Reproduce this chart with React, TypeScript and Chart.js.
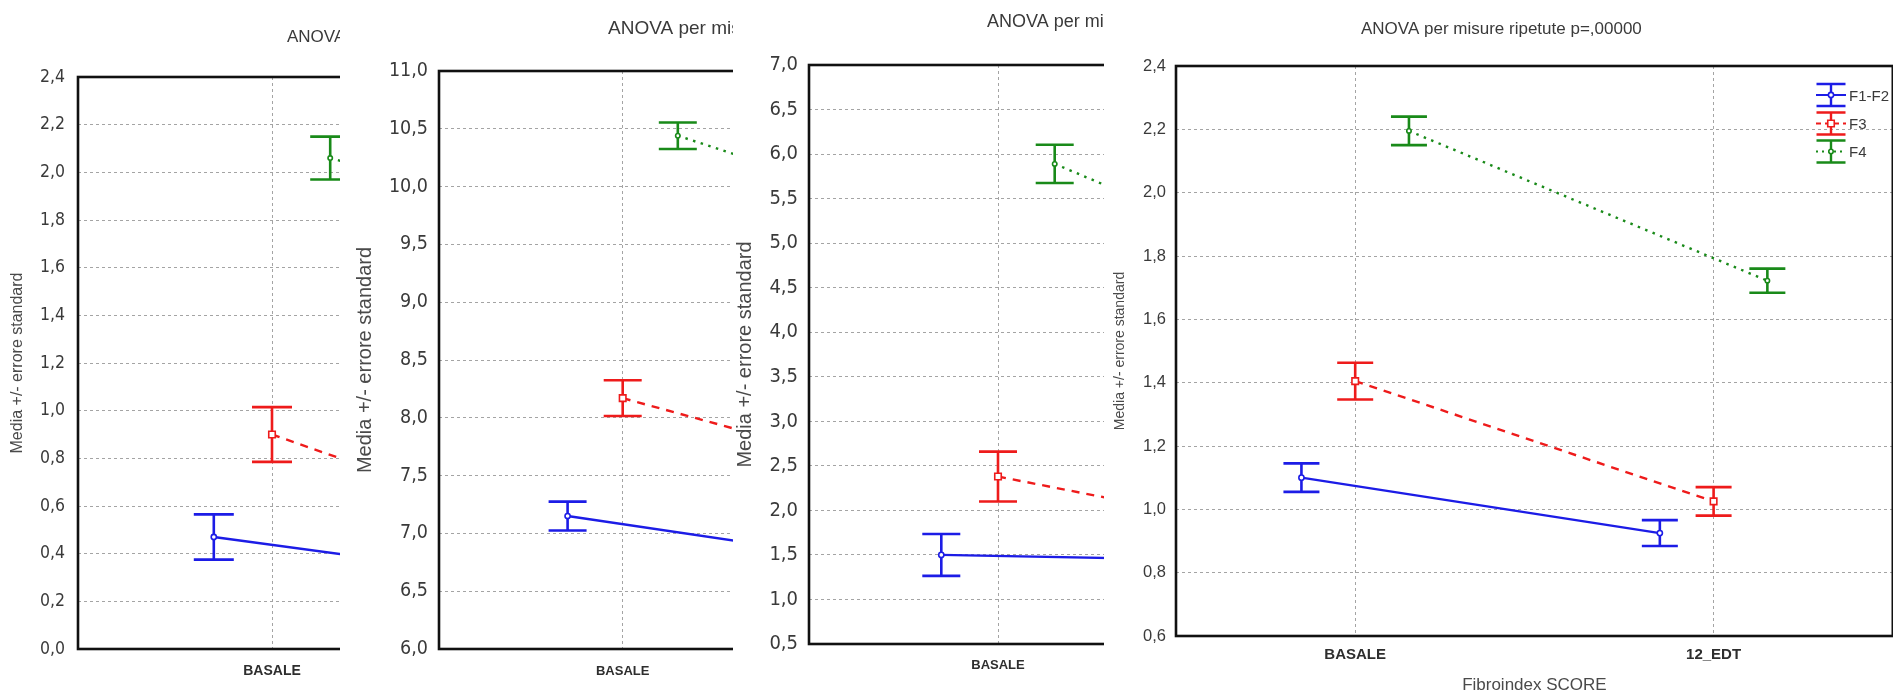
import React, { useEffect, useRef } from 'react';
import { Chart, registerables } from 'chart.js';

Chart.register(...registerables);

// ---------------- DATA ----------------
const CATEGORIES = ['BASALE', '12_EDT'];
const SERIES = ['F1-F2', 'F3', 'F4'];
const TITLE = 'ANOVA per misure ripetute p=,00000';
const Y_TITLE = 'Media +/- errore standard';
const X_TITLE = 'Fibroindex SCORE';

// y axis: [min, max, step]
const P1_Y_AXIS = [0, 2.4, 0.2];
const P2_Y_AXIS = [6.0, 11.0, 0.5];
const P3_Y_AXIS = [0.5, 7.0, 0.5];
const P4_Y_AXIS = [0.6, 2.4, 0.2];

// panel 1 (means, standard errors) per category
const P1_F12_MEAN = [0.47, 0.25];
const P1_F12_SE = [0.095, 0.09];
const P1_F3_MEAN = [0.9, 0.33];
const P1_F3_SE = [0.115, 0.1];
const P1_F4_MEAN = [2.06, 1.6];
const P1_F4_SE = [0.09, 0.09];

// panel 2
const P2_F12_MEAN = [7.15, 6.68];
const P2_F12_SE = [0.125, 0.12];
const P2_F3_MEAN = [8.17, 7.3];
const P2_F3_SE = [0.155, 0.15];
const P2_F4_MEAN = [10.44, 9.4];
const P2_F4_SE = [0.115, 0.12];

// panel 3
const P3_F12_MEAN = [1.5, 1.42];
const P3_F12_SE = [0.235, 0.2];
const P3_F3_MEAN = [2.38, 1.55];
const P3_F3_SE = [0.28, 0.25];
const P3_F4_MEAN = [5.89, 4.1];
const P3_F4_SE = [0.215, 0.2];

// panel 4
const P4_F12_MEAN = [1.1, 0.925];
const P4_F12_SE = [0.045, 0.041];
const P4_F3_MEAN = [1.405, 1.025];
const P4_F3_SE = [0.058, 0.045];
const P4_F4_MEAN = [2.195, 1.722];
const P4_F4_SE = [0.045, 0.038];

// ---------------- STYLE ----------------
const SERIES_STYLE = [
  { color: '#1c1ce6', dash: [] as number[], pointStyle: 'circle', radius: 2.6 },
  { color: '#ee1b1b', dash: [8, 7], pointStyle: 'rect', radius: 4.6 },
  { color: '#198a19', dash: [2.5, 5.5], pointStyle: 'circle', radius: 2.2 },
];
const OFFSETS = [-0.15, 0, 0.15];
const H = 694;
const NARROW = "'Liberation Sans Narrow', 'DejaVu Sans Condensed', 'Liberation Sans', sans-serif";
const SANS = "'Liberation Sans', Arial, sans-serif";
const TEXT_COLOR = '#3a3a3a';
const GRID_COLOR = '#a4a4a4';

type PanelCfg = {
  left: number; width: number;
  plotLeft: number; plotRight: number; plotTop: number; plotBottom: number;
  titleX: number; titleY: number; titleSize: number;
  yTitleSize: number; yTitleCenter: number;
  tickFamily: string; tickSize: number; tickPad: number;
  catSize: number; catPad: number;
  capHalf: number;
  showLegend: boolean; showXTitle: boolean;
  yAxis: number[];
  means: number[][]; ses: number[][];
};

const PANELS: PanelCfg[] = [
  {
    left: 0, width: 870, plotLeft: 78, plotRight: 854, plotTop: 77, plotBottom: 649,
    titleX: 287, titleY: 37, titleSize: 17, yTitleSize: 16, yTitleCenter: 18,
    tickFamily: NARROW, tickSize: 17.5, tickPad: 13, catSize: 14, catPad: 13.6, capHalf: 20,
    showLegend: false, showXTitle: false, yAxis: P1_Y_AXIS,
    means: [P1_F12_MEAN, P1_F3_MEAN, P1_F4_MEAN], ses: [P1_F12_SE, P1_F3_SE, P1_F4_SE],
  },
  {
    left: 340, width: 840, plotLeft: 439, plotRight: 1175, plotTop: 71, plotBottom: 649,
    titleX: 608, titleY: 29, titleSize: 19, yTitleSize: 20, yTitleCenter: 365,
    tickFamily: NARROW, tickSize: 19.5, tickPad: 11, catSize: 13, catPad: 15, capHalf: 19,
    showLegend: false, showXTitle: false, yAxis: P2_Y_AXIS,
    means: [P2_F12_MEAN, P2_F3_MEAN, P2_F4_MEAN], ses: [P2_F12_SE, P2_F3_SE, P2_F4_SE],
  },
  {
    left: 733, width: 840, plotLeft: 809, plotRight: 1565, plotTop: 65, plotBottom: 644,
    titleX: 987, titleY: 22, titleSize: 18, yTitleSize: 20, yTitleCenter: 745,
    tickFamily: NARROW, tickSize: 20, tickPad: 11, catSize: 13, catPad: 14, capHalf: 19,
    showLegend: false, showXTitle: false, yAxis: P3_Y_AXIS,
    means: [P3_F12_MEAN, P3_F3_MEAN, P3_F4_MEAN], ses: [P3_F12_SE, P3_F3_SE, P3_F4_SE],
  },
  {
    left: 1104, width: 795, plotLeft: 1176, plotRight: 1895.5, plotTop: 66, plotBottom: 636,
    titleX: 1361, titleY: 29, titleSize: 17, yTitleSize: 14, yTitleCenter: 1120,
    tickFamily: SANS, tickSize: 16.5, tickPad: 10, catSize: 15, catPad: 10, capHalf: 18,
    showLegend: true, showXTitle: true, yAxis: P4_Y_AXIS,
    means: [P4_F12_MEAN, P4_F3_MEAN, P4_F4_MEAN], ses: [P4_F12_SE, P4_F3_SE, P4_F4_SE],
  },
];

function drawMarker(ctx: CanvasRenderingContext2D, k: number, x: number, y: number) {
  const st = SERIES_STYLE[k];
  ctx.save();
  ctx.setLineDash([]);
  ctx.fillStyle = '#ffffff';
  ctx.strokeStyle = st.color;
  ctx.lineWidth = 1.6;
  ctx.beginPath();
  if (st.pointStyle === 'rect') {
    const s = st.radius * Math.SQRT1_2;
    ctx.rect(x - s, y - s, 2 * s, 2 * s);
  } else {
    ctx.arc(x, y, st.radius, 0, Math.PI * 2);
  }
  ctx.fill();
  ctx.stroke();
  ctx.restore();
}

const decoPlugin = {
  id: 'panelDeco',
  beforeDatasetsDraw(chart: any, _args: any, opts: any) {
    const cfg: PanelCfg = opts.cfg;
    const { ctx } = chart;
    const xs = chart.scales.x;
    const ys = chart.scales.y;
    ctx.save();
    ctx.lineWidth = 2.6;
    ctx.setLineDash([]);
    cfg.means.forEach((m, k) => {
      ctx.strokeStyle = SERIES_STYLE[k].color;
      m.forEach((v, j) => {
        const x = xs.getPixelForValue(j + OFFSETS[k]);
        const yHi = ys.getPixelForValue(v + cfg.ses[k][j]);
        const yLo = ys.getPixelForValue(v - cfg.ses[k][j]);
        ctx.beginPath();
        ctx.moveTo(x, yHi);
        ctx.lineTo(x, yLo);
        ctx.moveTo(x - cfg.capHalf, yHi);
        ctx.lineTo(x + cfg.capHalf, yHi);
        ctx.moveTo(x - cfg.capHalf, yLo);
        ctx.lineTo(x + cfg.capHalf, yLo);
        ctx.stroke();
      });
    });
    ctx.restore();
  },
  afterDraw(chart: any, _args: any, opts: any) {
    const cfg: PanelCfg = opts.cfg;
    const { ctx, chartArea } = chart;
    ctx.save();
    // frame
    ctx.strokeStyle = '#111111';
    ctx.lineWidth = 2.6;
    ctx.setLineDash([]);
    ctx.strokeRect(chartArea.left, chartArea.top, chartArea.right - chartArea.left, chartArea.bottom - chartArea.top);
    // title
    ctx.fillStyle = TEXT_COLOR;
    ctx.font = `${cfg.titleSize}px ${SANS}`;
    ctx.textAlign = 'left';
    ctx.textBaseline = 'middle';
    ctx.fillText(TITLE, cfg.titleX - cfg.left, cfg.titleY);
    // legend
    if (cfg.showLegend) {
      const cx = 1831 - cfg.left;
      const rows = [95, 123.5, 151.5];
      SERIES.forEach((name, k) => {
        const cy = rows[k];
        const st = SERIES_STYLE[k];
        ctx.strokeStyle = st.color;
        ctx.lineWidth = 2.4;
        ctx.setLineDash([]);
        ctx.beginPath();
        ctx.moveTo(cx, cy - 11);
        ctx.lineTo(cx, cy + 11);
        ctx.moveTo(cx - 14.5, cy - 11);
        ctx.lineTo(cx + 14.5, cy - 11);
        ctx.moveTo(cx - 14.5, cy + 11);
        ctx.lineTo(cx + 14.5, cy + 11);
        ctx.stroke();
        ctx.lineWidth = 2;
        ctx.setLineDash(k === 1 ? [5, 4] : k === 2 ? [2, 4] : []);
        ctx.beginPath();
        ctx.moveTo(cx - 15, cy);
        ctx.lineTo(cx + 15, cy);
        ctx.stroke();
        ctx.setLineDash([]);
        drawMarker(ctx, k, cx, cy);
        ctx.fillStyle = TEXT_COLOR;
        ctx.font = `15px ${SANS}`;
        ctx.textAlign = 'left';
        ctx.textBaseline = 'middle';
        ctx.fillText(name, 1849 - cfg.left, cy + 1.5);
      });
    }
    ctx.restore();
  },
};

function ChartPanel({ cfg }: { cfg: PanelCfg }) {
  const ref = useRef<HTMLCanvasElement | null>(null);
  useEffect(() => {
    if (!ref.current) return;
    const datasets = SERIES.map((name, k) => ({
      label: name,
      data: cfg.means[k].map((v, j) => ({ x: j + OFFSETS[k], y: v })),
      borderColor: SERIES_STYLE[k].color,
      borderWidth: 2.4,
      borderDash: SERIES_STYLE[k].dash,
      backgroundColor: '#ffffff',
      pointStyle: SERIES_STYLE[k].pointStyle,
      pointRadius: SERIES_STYLE[k].radius,
      pointBorderWidth: 1.6,
      pointBackgroundColor: '#ffffff',
      pointBorderColor: SERIES_STYLE[k].color,
      tension: 0,
      fill: false,
    }));
    const [yMin, yMax, yStep] = cfg.yAxis;
    const chart = new Chart(ref.current, {
      type: 'line',
      data: { datasets },
      plugins: [decoPlugin],
      options: {
        responsive: false,
        animation: false,
        events: [],
        layout: {
          padding: {
            top: cfg.plotTop,
            left: 0,
            bottom: 0,
            right: cfg.width - (cfg.plotRight - cfg.left),
          },
        },
        plugins: {
          legend: { display: false },
          title: { display: false },
          tooltip: { enabled: false },
          panelDeco: { cfg },
        } as any,
        scales: {
          x: {
            type: 'linear',
            min: -0.5,
            max: 1.5,
            afterBuildTicks: (s: any) => {
              s.ticks = CATEGORIES.map((_, i) => ({ value: i }));
            },
            afterFit: (s: any) => {
              s.height = H - cfg.plotBottom;
            },
            grid: { color: GRID_COLOR, lineWidth: 1, drawTicks: false },
            border: { display: false, dash: [3, 3] },
            ticks: {
              autoSkip: false,
              maxRotation: 0,
              padding: cfg.catPad,
              color: '#2e2e2e',
              font: { family: SANS, size: cfg.catSize, weight: 'bold', lineHeight: 1.2 },
              callback: (v: any) => CATEGORIES[Math.round(Number(v))] ?? '',
            },
            title: {
              display: cfg.showXTitle,
              text: X_TITLE,
              color: '#4a4a4a',
              font: { family: SANS, size: 17, lineHeight: 1 },
              padding: { top: 0, bottom: 0.5 },
            },
          },
          y: {
            type: 'linear',
            min: yMin,
            max: yMax,
            afterFit: (s: any) => {
              s.width = cfg.plotLeft - cfg.left;
            },
            grid: { color: GRID_COLOR, lineWidth: 1, drawTicks: false },
            border: { display: false, dash: [3, 3] },
            ticks: {
              stepSize: yStep,
              padding: cfg.tickPad,
              color: TEXT_COLOR,
              font: { family: cfg.tickFamily, size: cfg.tickSize, lineHeight: 1.2 },
              callback: (v: any) => Number(v).toFixed(1).replace('.', ','),
            },
            title: {
              display: true,
              text: Y_TITLE,
              color: '#4a4a4a',
              font: { family: SANS, size: cfg.yTitleSize, lineHeight: 1.2 },
              padding: { top: Math.max(0, cfg.yTitleCenter - cfg.left - cfg.yTitleSize * 0.6), bottom: 0 },
            },
          },
        },
      } as any,
    });
    return () => chart.destroy();
  }, [cfg]);
  return (
    <canvas
      ref={ref}
      width={cfg.width}
      height={H}
      style={{
        position: 'absolute',
        left: cfg.left,
        top: 0,
        width: cfg.width,
        height: H,
        background: '#ffffff',
        display: 'block',
      }}
    />
  );
}

export default function App() {
  return (
    <div
      style={{
        position: 'fixed',
        left: 0,
        top: 0,
        width: 1893,
        height: H,
        overflow: 'hidden',
        background: '#ffffff',
      }}
    >
      {PANELS.map((p, i) => (
        <ChartPanel key={i} cfg={p} />
      ))}
    </div>
  );
}
